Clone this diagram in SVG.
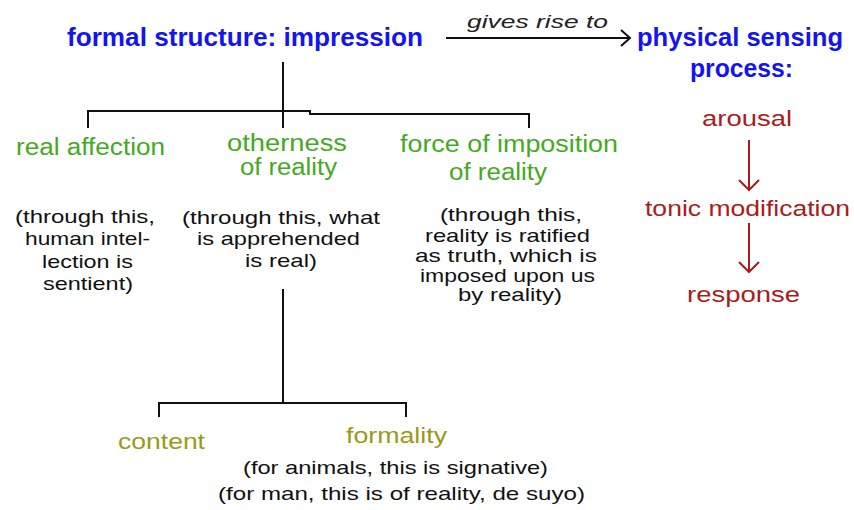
<svg xmlns="http://www.w3.org/2000/svg" width="854" height="510" viewBox="0 0 854 510">
<style>
text{font-family:"Liberation Sans",Arial,sans-serif}
.blue{fill:#1414f0;font-weight:bold;font-size:25px}
.green{fill:#44aa22;font-size:23px}
.note{fill:#111;font-size:19px}
.red{fill:#aa1c1c;font-size:22px}
.olive{fill:#9a9a18;font-size:22px}
.ital{fill:#222;font-size:19px;font-style:italic}
.ln{stroke:#111;stroke-width:2;fill:none}
.rln{stroke:#aa1c1c;stroke-width:2;fill:none}
</style>
<rect width="854" height="510" fill="#fff"/>
<g id="connectors">
<line class="ln" x1="446" y1="38" x2="630" y2="38"/>
<path class="ln" stroke-width="1.5" d="M621,30 L630,38 L621,46"/>
<line class="ln" x1="283" y1="62" x2="283" y2="128"/>
<path class="ln" d="M88,128 V111 H310 V114 H529 V128"/>
<line class="ln" x1="283" y1="289" x2="283" y2="403"/>
<path class="ln" d="M159,417 V403 H406 V417"/>
<line class="rln" x1="749" y1="140" x2="749" y2="190"/>
<path class="rln" d="M739,180 L749,190 L759,180"/>
<line class="rln" x1="749" y1="223" x2="749" y2="272"/>
<path class="rln" d="M739,262 L749,272 L759,262"/>
</g>
<g id="formal-structure"><text class="blue" x="67" y="46" textLength="356" lengthAdjust="spacingAndGlyphs">formal structure: impression</text></g>
<g id="gives-rise-to"><text class="ital" x="467" y="28" textLength="141" lengthAdjust="spacingAndGlyphs">gives rise to</text></g>
<g id="physical-sensing">
<text class="blue" x="637" y="46" textLength="206" lengthAdjust="spacingAndGlyphs">physical sensing</text>
<text class="blue" x="690" y="77" textLength="103" lengthAdjust="spacingAndGlyphs">process:</text>
</g>
<g id="real-affection">
<text class="green" x="16" y="155" textLength="149" lengthAdjust="spacingAndGlyphs">real affection</text>
<text class="note" x="15" y="223" textLength="140" lengthAdjust="spacingAndGlyphs">(through this,</text>
<text class="note" x="25" y="245" textLength="125" lengthAdjust="spacingAndGlyphs">human intel-</text>
<text class="note" x="42" y="268" textLength="91" lengthAdjust="spacingAndGlyphs">lection is</text>
<text class="note" x="43" y="290" textLength="90" lengthAdjust="spacingAndGlyphs">sentient)</text>
</g>
<g id="otherness">
<text class="green" x="227" y="151" textLength="120" lengthAdjust="spacingAndGlyphs">otherness</text>
<text class="green" x="240" y="175" textLength="97" lengthAdjust="spacingAndGlyphs">of reality</text>
<text class="note" x="182" y="224" textLength="198" lengthAdjust="spacingAndGlyphs">(through this, what</text>
<text class="note" x="197" y="245" textLength="163" lengthAdjust="spacingAndGlyphs">is apprehended</text>
<text class="note" x="245" y="267" textLength="72" lengthAdjust="spacingAndGlyphs">is real)</text>
</g>
<g id="force-of-imposition">
<text class="green" x="400" y="152" textLength="218" lengthAdjust="spacingAndGlyphs">force of imposition</text>
<text class="green" x="449" y="180" textLength="98" lengthAdjust="spacingAndGlyphs">of reality</text>
<text class="note" x="440" y="221" textLength="142" lengthAdjust="spacingAndGlyphs">(through this,</text>
<text class="note" x="425" y="242" textLength="165" lengthAdjust="spacingAndGlyphs">reality is ratified</text>
<text class="note" x="415" y="262" textLength="182" lengthAdjust="spacingAndGlyphs">as truth, which is</text>
<text class="note" x="420" y="282" textLength="175" lengthAdjust="spacingAndGlyphs">imposed upon us</text>
<text class="note" x="458" y="301" textLength="104" lengthAdjust="spacingAndGlyphs">by reality)</text>
</g>
<g id="arousal"><text class="red" x="702" y="126" textLength="90" lengthAdjust="spacingAndGlyphs">arousal</text></g>
<g id="tonic-modification"><text class="red" x="645" y="216" textLength="205" lengthAdjust="spacingAndGlyphs">tonic modification</text></g>
<g id="response"><text class="red" x="687" y="302" textLength="113" lengthAdjust="spacingAndGlyphs">response</text></g>
<g id="content"><text class="olive" x="118" y="449" textLength="87" lengthAdjust="spacingAndGlyphs">content</text></g>
<g id="formality">
<text class="olive" x="346" y="443" textLength="101" lengthAdjust="spacingAndGlyphs">formality</text>
<text class="note" x="243" y="474" textLength="305" lengthAdjust="spacingAndGlyphs">(for animals, this is signative)</text>
<text class="note" x="218" y="500" textLength="367" lengthAdjust="spacingAndGlyphs">(for man, this is of reality, de suyo)</text>
</g>
</svg>
